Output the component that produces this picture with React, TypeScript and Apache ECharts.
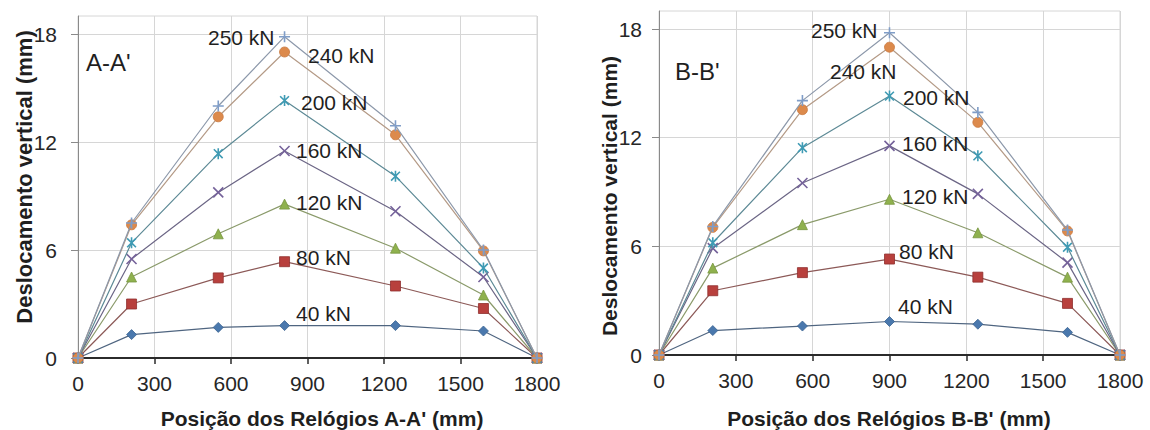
import React, { useEffect, useRef } from "react";
import * as echarts from "echarts";

// Positions of the dial gauges (mm)
const xA = [0, 210, 550, 810, 1245, 1590, 1800];
const xB = [0, 210, 560, 900, 1245, 1595, 1800];

const loadNames = ["40 kN", "80 kN", "120 kN", "160 kN", "200 kN", "240 kN", "250 kN"];

// Section A-A' vertical displacement (mm)
const a40 = [0, 1.3, 1.7, 1.8, 1.8, 1.5, 0];
const a80 = [0, 3.0, 4.45, 5.35, 4.0, 2.75, 0];
const a120 = [0, 4.5, 6.9, 8.55, 6.1, 3.5, 0];
const a160 = [0, 5.5, 9.2, 11.5, 8.15, 4.5, 0];
const a200 = [0, 6.4, 11.35, 14.3, 10.1, 5.0, 0];
const a240 = [0, 7.4, 13.4, 17.0, 12.4, 5.95, 0];
const a250 = [0, 7.5, 14.0, 17.85, 12.9, 6.0, 0];

// Section B-B' vertical displacement (mm)
const b40 = [0, 1.35, 1.6, 1.85, 1.7, 1.25, 0];
const b80 = [0, 3.55, 4.55, 5.3, 4.3, 2.85, 0];
const b120 = [0, 4.8, 7.2, 8.6, 6.75, 4.3, 0];
const b160 = [0, 5.9, 9.5, 11.55, 8.9, 5.1, 0];
const b200 = [0, 6.2, 11.45, 14.3, 11.0, 5.95, 0];
const b240 = [0, 7.05, 13.55, 17.0, 12.85, 6.85, 0];
const b250 = [0, 7.1, 14.05, 17.8, 13.4, 6.9, 0];

const yTicks = [0, 6, 12, 18];

const seriesA = [a40, a80, a120, a160, a200, a240, a250];
const seriesB = [b40, b80, b120, b160, b200, b240, b250];

const FONT = "'Liberation Sans', Arial, sans-serif";

const SYM_X = "path://M0,0L10,10M10,0L0,10";
const SYM_STAR = "path://M1,1L9,9M9,1L1,9M5,0L5,10";
const SYM_PLUS = "path://M5,0L5,10M0,5L10,5";

const styles = [
  { symbol: "diamond", size: 10, marker: "#4a78ad", border: "#3b6391", line: "#4f6580", stroke: false },
  { symbol: "rect", size: 10, marker: "#b8403d", border: "#8f2f2d", line: "#8c5957", stroke: false },
  { symbol: "triangle", size: 10, marker: "#8fb14e", border: "#77953f", line: "#8a9a6a", stroke: false },
  { symbol: SYM_X, size: 10, marker: "#75629a", border: "#75629a", line: "#6b6585", stroke: true },
  { symbol: SYM_STAR, size: 11, marker: "#3f9bb4", border: "#3f9bb4", line: "#5c8995", stroke: true },
  { symbol: "circle", size: 10, marker: "#dc8a4c", border: "#c9783f", line: "#b49a86", stroke: false },
  { symbol: SYM_PLUS, size: 11, marker: "#7f9dc8", border: "#7f9dc8", line: "#8c98aa", stroke: true },
];

// Annotation labels: [text, x, y]
const labelsA: [string, number, number][] = [
  ["250 kN", 208, 37],
  ["240 kN", 308, 55],
  ["200 kN", 301, 102],
  ["160 kN", 296, 150],
  ["120 kN", 296, 202],
  ["80 kN", 296, 257],
  ["40 kN", 296, 313],
];
const labelsB: [string, number, number][] = [
  ["250 kN", 811, 30],
  ["240 kN", 830, 71],
  ["200 kN", 903, 97],
  ["160 kN", 902, 143],
  ["120 kN", 902, 196],
  ["80 kN", 899, 251],
  ["40 kN", 898, 306],
];

function makeSeries(xs: number[], ys: number[][], axisIndex: number) {
  return ys.map((vals, i) => {
    const s = styles[i];
    return {
      type: "line",
      name: loadNames[i],
      xAxisIndex: axisIndex,
      yAxisIndex: axisIndex,
      data: xs.map((x, k) => [x, vals[k]]),
      symbol: s.symbol,
      symbolSize: s.size,
      symbolKeepAspect: true,
      showAllSymbol: true,
      clip: false,
      lineStyle: { color: s.line, width: 1.2 },
      itemStyle: s.stroke
        ? { color: s.marker, borderColor: s.border, borderWidth: 1.6 }
        : { color: s.marker, borderColor: s.border, borderWidth: 0.8 },
      emphasis: { disabled: true },
      z: 3 + i,
    };
  });
}

function xAxis(gridIndex: number) {
  return {
    type: "value",
    gridIndex,
    min: 0,
    max: 1800,
    interval: 300,
    axisLine: { show: true, onZero: false, lineStyle: { color: "#2b2b2b", width: 2 } },
    axisTick: { show: true, inside: false, length: 6, lineStyle: { color: "#2b2b2b", width: 1.5 } },
    axisLabel: {
      fontSize: 21,
      fontFamily: FONT,
      color: "#262626",
      margin: 15,
      formatter: (v: number) => String(v),
    },
    splitLine: { show: true, lineStyle: { color: "#d6d6d6", width: 1 } },
  };
}

function yAxis(gridIndex: number, margin: number) {
  return {
    type: "value",
    gridIndex,
    min: 0,
    max: 19,
    interval: 6,
    axisLine: { show: true, onZero: false, lineStyle: { color: "#8a8a8a", width: 1 } },
    axisTick: { show: true, inside: false, length: 7, customValues: yTicks, lineStyle: { color: "#8a8a8a" } },
    axisLabel: {
      fontSize: 21,
      fontFamily: FONT,
      color: "#262626",
      margin,
      customValues: yTicks,
      formatter: (v: number) => String(v),
    },
    splitLine: { show: true, lineStyle: { color: "#d6d6d6", width: 1 } },
  };
}

function textEl(text: string, x: number, y: number, size: number, bold = false, rotation = 0, align = "left") {
  return {
    type: "text",
    x,
    y,
    rotation,
    z: 50,
    style: {
      text,
      fill: "#1f1f1f",
      fontSize: size,
      fontFamily: FONT,
      fontWeight: bold ? "bold" : "normal",
      textAlign: align,
      textVerticalAlign: "middle",
    },
  };
}

export default function App() {
  const ref = useRef<HTMLDivElement>(null);

  useEffect(() => {
    document.body.style.margin = "0";
    if (!ref.current) return;
    const chart = echarts.init(ref.current, null, { renderer: "svg" });

    const graphics: any[] = [];
    labelsA.forEach(([t, x, y]) => graphics.push(textEl(t, x, y, 21)));
    labelsB.forEach(([t, x, y]) => graphics.push(textEl(t, x, y, 21)));
    graphics.push(textEl("A-A'", 86, 62, 24));
    graphics.push(textEl("B-B'", 675, 71, 24));
    graphics.push(textEl("Posição dos Relógios A-A' (mm)", 322, 418, 21, true, 0, "center"));
    graphics.push(textEl("Posição dos Relógios B-B' (mm)", 889, 418, 21, true, 0, "center"));
    graphics.push(textEl("Deslocamento vertical (mm)", 24, 177, 22, true, Math.PI / 2, "center"));
    graphics.push(textEl("Deslocamento vertical (mm)", 609, 196, 21, true, Math.PI / 2, "center"));

    chart.setOption({
      animation: false,
      backgroundColor: "#ffffff",
      grid: [
        { left: 78, top: 16, width: 459, height: 342, show: true, borderColor: "#d6d6d6", borderWidth: 1, backgroundColor: "transparent" },
        { left: 659, top: 11, width: 461, height: 344, show: true, borderColor: "#d6d6d6", borderWidth: 1, backgroundColor: "transparent" },
      ],
      xAxis: [xAxis(0), xAxis(1)],
      yAxis: [yAxis(0, 21), yAxis(1, 17)],
      series: [...makeSeries(xA, seriesA, 0), ...makeSeries(xB, seriesB, 1)],
      graphic: graphics,
    });

    return () => chart.dispose();
  }, []);

  return <div ref={ref} style={{ width: 1150, height: 430 }} />;
}
